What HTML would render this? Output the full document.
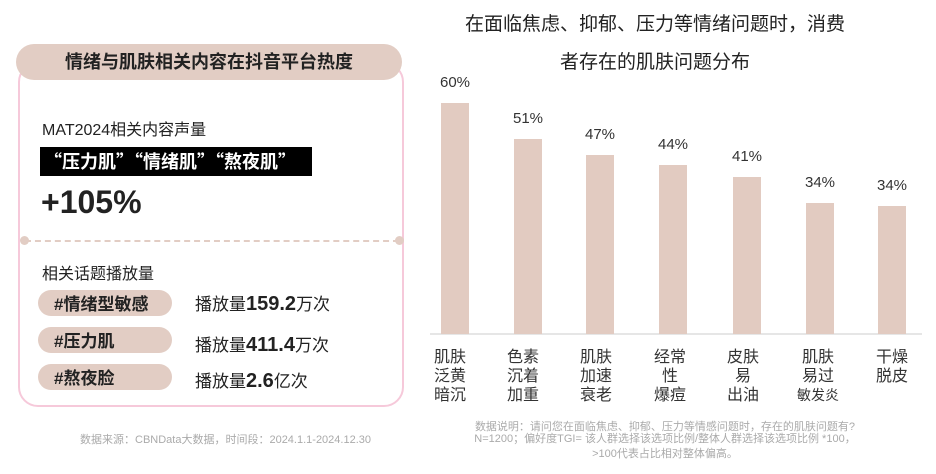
<!DOCTYPE html>
<html><head><meta charset="utf-8"><style>
body{margin:0;width:936px;height:474px;background:#fff;position:relative;overflow:hidden;font-family:"Liberation Sans","Noto Sans CJK SC",sans-serif;color:#222}
.a{position:absolute;white-space:nowrap}
.card{position:absolute;left:18px;top:62px;width:386px;height:345px;border:2px solid #f6c9da;border-radius:20px;box-sizing:border-box}
.hdr{position:absolute;left:16px;top:44px;width:386px;height:36px;background:#e2cdc4;border-radius:18px;text-align:center;line-height:36px;font-size:18px;font-weight:bold}
.pill{position:absolute;left:38px;width:134px;height:26px;background:#e2cdc4;border-radius:13px;font-size:17px;font-weight:bold;line-height:30px;padding-left:16px;box-sizing:border-box;overflow:hidden}
.bar{position:absolute;width:28px;background:#e2cbc1}
.pct{position:absolute;width:60px;text-align:center;font-size:15px;color:#333}
.lab{position:absolute;width:60px;text-align:center;font-size:16px;line-height:19px;color:#333}
</style></head><body>
<div class="card"></div>
<div class="hdr">情绪与肌肤相关内容在抖音平台热度</div>
<div class="a" style="left:42px;top:116px;font-size:16px">MAT2024相关内容声量</div>
<div class="a" style="left:40px;top:147px;width:272px;height:29px;background:#000;color:#fff;font-size:18px;font-weight:bold;line-height:29px;padding-left:4px;box-sizing:border-box;font-family:'Noto Sans CJK SC',sans-serif">“压力肌”“情绪肌”“熬夜肌”</div>
<div class="a" style="left:41px;top:184px;font-size:32px;font-weight:bold">+105%</div>
<div class="a" style="left:25px;top:240px;width:374px;border-top:2px dashed #e2cdc4"></div>
<div class="a" style="left:20px;top:236px;width:9px;height:9px;border-radius:50%;background:#e2cdc4"></div>
<div class="a" style="left:395px;top:236px;width:9px;height:9px;border-radius:50%;background:#e2cdc4"></div>
<div class="a" style="left:42px;top:260px;font-size:16px">相关话题播放量</div>
<div class="pill" style="top:290px">#情绪型敏感</div>
<div class="pill" style="top:327px">#压力肌</div>
<div class="pill" style="top:364px">#熬夜脸</div>
<div class="a" style="left:195px;top:290px;font-size:17px">播放量<b style="font-size:20px">159.2</b>万次</div>
<div class="a" style="left:195px;top:331px;font-size:17px">播放量<b style="font-size:20px">411.4</b>万次</div>
<div class="a" style="left:195px;top:367px;font-size:17px">播放量<b style="font-size:20px">2.6</b>亿次</div>
<div class="a" style="left:80px;top:431px;font-size:11px;color:#aaa">数据来源：CBNData大数据，时间段：2024.1.1-2024.12.30</div>

<div class="a" style="left:420px;top:6px;width:470px;text-align:center;font-size:19px;line-height:38px;white-space:normal;color:#222">在面临焦虑、抑郁、压力等情绪问题时，消费<br>者存在的肌肤问题分布</div>
<div class="a" style="left:430px;top:333px;width:492px;height:2px;background:#e6e6e6"></div>

<div class="bar" style="left:441px;top:103px;height:231px"></div>
<div class="bar" style="left:514px;top:139px;height:195px"></div>
<div class="bar" style="left:586px;top:155px;height:179px"></div>
<div class="bar" style="left:659px;top:165px;height:169px"></div>
<div class="bar" style="left:733px;top:177px;height:157px"></div>
<div class="bar" style="left:806px;top:203px;height:131px"></div>
<div class="bar" style="left:878px;top:206px;height:128px"></div>

<div class="pct" style="left:425px;top:74px">60%</div>
<div class="pct" style="left:498px;top:110px">51%</div>
<div class="pct" style="left:570px;top:126px">47%</div>
<div class="pct" style="left:643px;top:136px">44%</div>
<div class="pct" style="left:717px;top:148px">41%</div>
<div class="pct" style="left:790px;top:174px">34%</div>
<div class="pct" style="left:862px;top:177px">34%</div>

<div class="lab" style="left:420px;top:348px">肌肤<br>泛黄<br>暗沉</div>
<div class="lab" style="left:493px;top:348px">色素<br>沉着<br>加重</div>
<div class="lab" style="left:566px;top:348px">肌肤<br>加速<br>衰老</div>
<div class="lab" style="left:640px;top:348px">经常<br>性<br>爆痘</div>
<div class="lab" style="left:713px;top:348px">皮肤<br>易<br>出油</div>
<div class="lab" style="left:788px;top:348px">肌肤<br>易过<br><span style="font-size:14px">敏发炎</span></div>
<div class="lab" style="left:862px;top:348px">干燥<br>脱皮</div>

<div class="a" style="left:420px;top:421px;width:490px;text-align:center;font-size:11px;line-height:12px;color:#aaa;white-space:normal">数据说明：请问您在面临焦虑、抑郁、压力等情感问题时，存在的肌肤问题有?<br>N=1200；偏好度TGI= 该人群选择该选项比例/整体人群选择该选项比例 *100，<br><span style="line-height:18px">&gt;100代表占比相对整体偏高。</span></div>
</body></html>
